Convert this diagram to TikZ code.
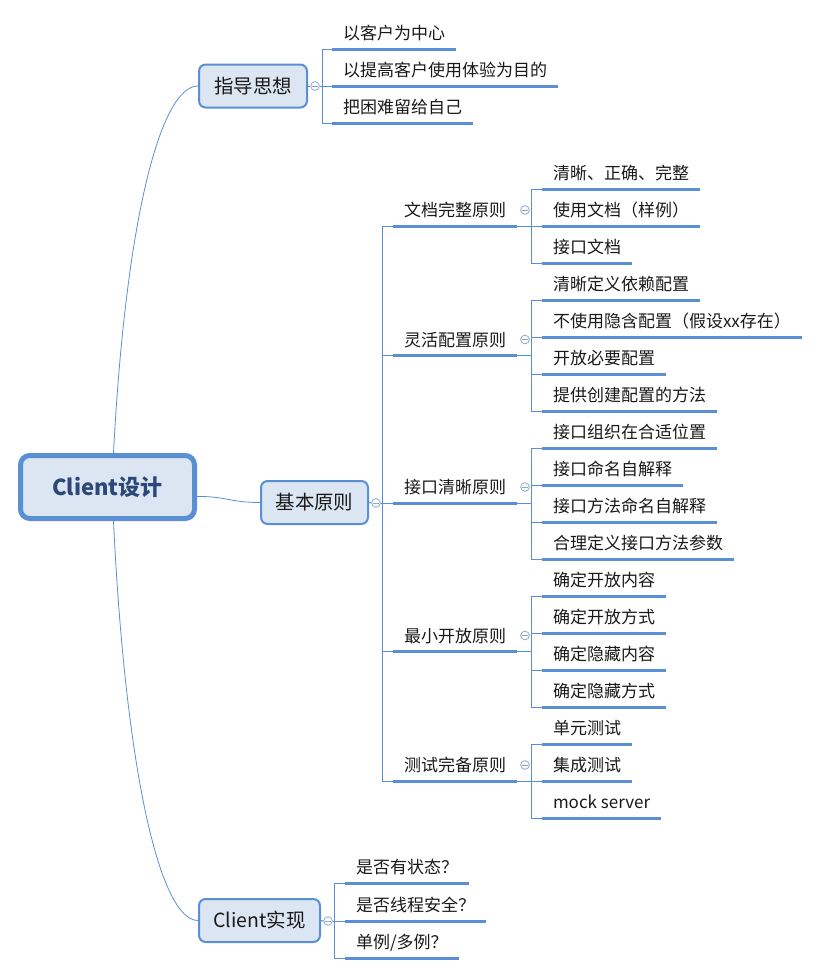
\documentclass[tikz,border=0pt]{standalone}
\usepackage{fontspec}
\setmainfont{Noto Sans CJK SC}
\definecolor{lineblue}{RGB}{91,143,212}
\definecolor{nodefill}{RGB}{220,230,243}
\definecolor{roottext}{RGB}{44,72,120}
\definecolor{circc}{RGB}{140,168,205}
\definecolor{txt}{RGB}{25,25,25}
\begin{document}
\begin{tikzpicture}[x=0.75pt,y=-0.75pt,
  conn/.style={draw=lineblue, line width=0.75pt},
  uline/.style={draw=lineblue, line width=2.25pt},
  leaf/.style={anchor=south west, inner xsep=8.25pt, inner ysep=0pt, outer sep=0pt,
    text height=9.5pt, text depth=7.1pt, font=\fontsize{12.75pt}{15pt}\selectfont, text=txt,
    append after command={(\tikzlastnode.south west) edge[uline] (\tikzlastnode.south east)}},
  lone/.style={draw=lineblue, line width=1.5pt, fill=nodefill, rounded corners=5pt,
    minimum height=32.25pt, inner sep=0pt, font=\fontsize{14.6pt}{17pt}\selectfont, text=txt},
  rootbox/.style={draw=lineblue, line width=3.75pt, fill=nodefill, rounded corners=7pt,
    minimum width=130.5pt, minimum height=47.25pt, inner sep=0pt,
    font=\fontsize{16.5pt}{20pt}\selectfont\bfseries, text=roottext},
  circ/.style={circle, draw=circc, fill=white, line width=0.6pt, minimum size=6.5pt, inner sep=0pt,
    path picture={\draw[circc, line width=0.6pt] ([xshift=-2pt]path picture bounding box.center) -- ([xshift=2pt]path picture bounding box.center);}}
]
\useasboundingbox (0,0) rectangle (821,975);

% root and level 1
\node[rootbox] (root) at (107.5,487) {Client设计};
\node[lone, minimum width=81pt] (zd) at (253,86) {指导思想};
\node[lone, minimum width=80.25pt] (jb) at (314.5,502.5) {基本原则};
\node[lone, minimum width=90.75pt] (cs) at (259.5,920.5) {Client实现};

\draw[conn, line width=0.6pt] (root.80) .. controls +(12,-230) and +(-38,0) .. (zd.west);
\draw[conn, line width=0.6pt] (root.-80) .. controls +(12,250) and +(-38,0) .. (cs.west);
\draw[conn, line width=0.6pt] (root.-6) .. controls +(30,0) and +(-30,0) .. (jb.west);

% 指导思想
\node[circ] (o1) at (315,86) {};
\coordinate (j1) at (322,86);
\node[leaf] (z1) at (332,49) {以客户为中心};
\node[leaf] (z2) at (332,86) {以提高客户使用体验为目的};
\node[leaf] (z3) at (332,123) {把困难留给自己};
\draw[conn] (zd.east) -- (o1.west);
\draw[conn] (o1.east) -- (j1);
\foreach \n in {z1,z2,z3} \draw[conn] (j1) |- (\n.south west);

% Client实现
\node[circ] (oc) at (328,921) {};
\coordinate (jc) at (334,921);
\node[leaf] (c1) at (345,883) {是否有状态？};
\node[leaf] (c2) at (345,921) {是否线程安全？};
\node[leaf] (c3) at (345,958) {单例/多例？};
\draw[conn] (cs.east) -- (oc.west);
\draw[conn] (oc.east) -- (jc);
\foreach \n in {c1,c2,c3} \draw[conn] (jc) |- (\n.south west);

% 基本原则
\node[circ] (ob) at (376,503) {};
\coordinate (jbj) at (382,503);
\node[leaf] (a) at (393,226) {文档完整原则};
\node[leaf] (b) at (393,355.5) {灵活配置原则};
\node[leaf] (c) at (393,503) {接口清晰原则};
\node[leaf] (d) at (393,651.5) {最小开放原则};
\node[leaf] (e) at (393,781) {测试完备原则};
\draw[conn] (jb.east) -- (ob.west);
\draw[conn] (ob.east) -- (jbj);
\foreach \n in {a,b,c,d,e} \draw[conn] (jbj) |- (\n.south west);

% 文档完整原则
\node[circ] (oa) at (525,210) {};
\coordinate (ja) at (531,226);
\node[leaf] (a1) at (542,189) {清晰、正确、完整};
\node[leaf] (a2) at (542,226) {使用文档（样例）};
\node[leaf] (a3) at (542,263) {接口文档};
\draw[conn] (a.south east) -- (ja);
\foreach \n in {a1,a2,a3} \draw[conn] (ja) |- (\n.south west);

% 灵活配置原则
\node[circ] (obb) at (525,339.5) {};
\coordinate (jbb) at (531,355.5);
\node[leaf] (b1) at (542,300) {清晰定义依赖配置};
\node[leaf] (b2) at (542,337) {不使用隐含配置（假设xx存在）};
\node[leaf] (b3) at (542,374) {开放必要配置};
\node[leaf] (b4) at (542,411) {提供创建配置的方法};
\draw[conn] (b.south east) -- (jbb);
\foreach \n in {b1,b2,b3,b4} \draw[conn] (jbb) |- (\n.south west);

% 接口清晰原则
\node[circ] (occ) at (525,487) {};
\coordinate (jcc) at (531,503);
\node[leaf] (k1) at (542,448) {接口组织在合适位置};
\node[leaf] (k2) at (542,485) {接口命名自解释};
\node[leaf] (k3) at (542,522) {接口方法命名自解释};
\node[leaf] (k4) at (542,559) {合理定义接口方法参数};
\draw[conn] (c.south east) -- (jcc);
\foreach \n in {k1,k2,k3,k4} \draw[conn] (jcc) |- (\n.south west);

% 最小开放原则
\node[circ] (od) at (525,635.5) {};
\coordinate (jd) at (531,651.5);
\node[leaf] (d1) at (542,596) {确定开放内容};
\node[leaf] (d2) at (542,633) {确定开放方式};
\node[leaf] (d3) at (542,670) {确定隐藏内容};
\node[leaf] (d4) at (542,707) {确定隐藏方式};
\draw[conn] (d.south east) -- (jd);
\foreach \n in {d1,d2,d3,d4} \draw[conn] (jd) |- (\n.south west);

% 测试完备原则
\node[circ] (oe) at (525,765) {};
\coordinate (je) at (531,781);
\node[leaf] (e1) at (542,744) {单元测试};
\node[leaf] (e2) at (542,781) {集成测试};
\node[leaf] (e3) at (542,818) {mock server};
\draw[conn] (e.south east) -- (je);
\foreach \n in {e1,e2,e3} \draw[conn] (je) |- (\n.south west);
\end{tikzpicture}
\end{document}
